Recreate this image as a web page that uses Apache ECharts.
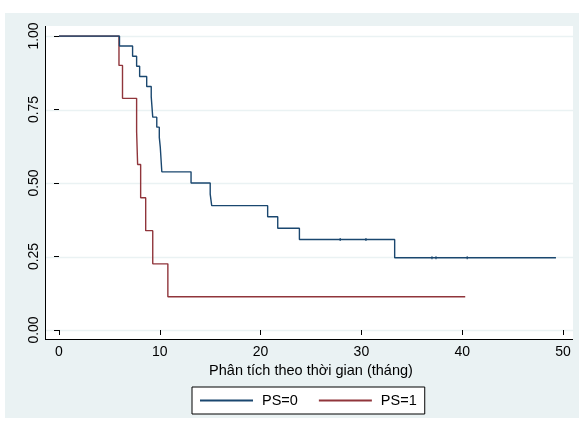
<!DOCTYPE html>
<html>
<head>
<meta charset="utf-8">
<script src="https://cdn.jsdelivr.net/npm/echarts@6/dist/echarts.min.js"></script>
<style>
html,body{margin:0;padding:0;background:#ffffff;}
#c{width:579px;height:425px;}
</style>
</head>
<body>
<div id="c"></div>
<script>
// Kaplan-Meier estimates
var ps0Time = [0, 6.0, 7.3, 7.7, 8.0, 8.7, 9.15, 9.3, 9.7, 9.95, 10.05, 10.2, 13.1, 15.0, 15.15, 20.7, 21.7, 23.85, 33.3, 49.3];
var ps0Surv = [1.0, 0.966, 0.931, 0.897, 0.862, 0.828, 0.793, 0.724, 0.690, 0.655, 0.621, 0.538, 0.500, 0.462, 0.423, 0.385, 0.346, 0.308, 0.246, 0.246];
var ps1Time = [0, 5.95, 6.3, 7.7, 7.8, 8.1, 8.6, 9.3, 10.8, 40.3];
var ps1Surv = [1.0, 0.900, 0.788, 0.675, 0.563, 0.450, 0.338, 0.225, 0.113, 0.113];
var ps0CensorTime = [27.9, 30.45, 37.0, 37.4, 40.5];
var ps0CensorSurv = [0.308, 0.308, 0.246, 0.246, 0.246];
var xTicks = [0, 10, 20, 30, 40, 50];
var yTicks = [0, 0.25, 0.5, 0.75, 1];
var seriesNames = ['PS=0', 'PS=1'];
var xTitle = 'Phân tích theo thời gian (tháng)';

var blue = '#1a476f', red = '#90353b';
function pairs(t, s) { return t.map(function (v, i) { return [v, s[i]]; }); }

var chart = echarts.init(document.getElementById('c'), null, {renderer: 'canvas'});
var FONT = 'Liberation Sans, Arial, Helvetica, sans-serif';
var G = {left: 59, right: 16, top: 36, bottom: 95};

chart.setOption({
  animation: false,
  backgroundColor: '#ffffff',
  grid: {left: G.left, right: G.right, top: G.top, bottom: G.bottom, containLabel: false},
  xAxis: {
    type: 'value', min: 0, max: 50, interval: 10, offset: 9,
    axisLine: {show: false},
    axisTick: {show: true, length: 5, lineStyle: {color: '#000', width: 1}},
    axisLabel: {color: '#000', fontFamily: FONT, fontSize: 14, margin: 6,
      formatter: function (v) { return xTicks.indexOf(v) >= 0 ? String(v) : ''; }},
    splitLine: {show: false},
    name: xTitle, nameLocation: 'middle', nameGap: 24,
    nameTextStyle: {color: '#000', fontFamily: FONT, fontSize: 14.5}
  },
  yAxis: {
    type: 'value', min: 0, max: 1, interval: 0.25, offset: 14,
    axisLine: {show: false},
    axisTick: {show: true, length: 5, lineStyle: {color: '#000', width: 1}},
    axisLabel: {color: '#000', fontFamily: FONT, fontSize: 14, margin: 4, rotate: 90,
      formatter: function (v) { return yTicks.indexOf(v) >= 0 ? v.toFixed(2) : ''; }},
    splitLine: {show: false}
  },
  legend: {
    left: 192, top: 387, width: 235,
    data: seriesNames,
    backgroundColor: '#ffffff', borderColor: '#000', borderWidth: 1,
    padding: [6, 8, 6, 8], itemGap: 21, itemWidth: 53, itemHeight: 2, icon: 'rect',
    textStyle: {color: '#000', fontFamily: FONT, fontSize: 14.5, padding: [0, 0, 0, 4]}
  },
  series: [
    {name: seriesNames[0], type: 'line', step: 'end', showSymbol: false, symbol: 'none',
      data: pairs(ps0Time, ps0Surv), lineStyle: {color: blue, width: 1.4}, itemStyle: {color: blue}, z: 4},
    {name: seriesNames[1], type: 'line', step: 'end', showSymbol: false, symbol: 'none',
      data: pairs(ps1Time, ps1Surv), lineStyle: {color: red, width: 1.4}, itemStyle: {color: red}, z: 3},
    {name: 'censor0', type: 'scatter', symbol: 'rect', symbolSize: [1.4, 3],
      data: pairs(ps0CensorTime, ps0CensorSurv), itemStyle: {color: blue}, z: 5, silent: true}
  ]
});

// background panels, gridlines and axis lines
var px = function (x, y) { return chart.convertToPixel({gridIndex: 0}, [x, y]); };
var plotL = 45, plotR = 573, plotT = 26, plotB = 339;
var gfx = [
  {type: 'rect', shape: {x: 5, y: 13, width: 574, height: 405}, style: {fill: '#eaf2f3'}, z: -20, silent: true},
  {type: 'rect', shape: {x: plotL, y: plotT, width: plotR - plotL, height: plotB - plotT}, style: {fill: '#ffffff'}, z: -19, silent: true}
];
yTicks.forEach(function (v) {
  var y = Math.round(px(0, v)[1]) + 0.5;
  gfx.push({type: 'line', shape: {x1: plotL, y1: y, x2: plotR, y2: y}, style: {stroke: '#eaf2f3', lineWidth: 1.5}, z: -18, silent: true});
});
gfx.push({type: 'line', shape: {x1: plotL + 0.5, y1: plotT, x2: plotL + 0.5, y2: plotB + 0.5}, style: {stroke: '#000', lineWidth: 1}, z: 10, silent: true});
gfx.push({type: 'line', shape: {x1: plotL, y1: plotB + 0.5, x2: plotR, y2: plotB + 0.5}, style: {stroke: '#000', lineWidth: 1}, z: 10, silent: true});
chart.setOption({graphic: gfx});
</script>
</body>
</html>
